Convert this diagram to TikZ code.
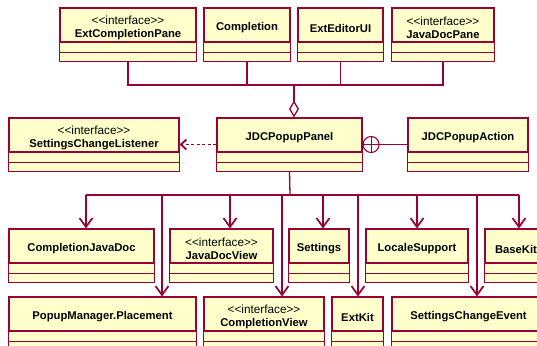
\documentclass[tikz,border=0pt]{standalone}
\usepackage{fontspec}
\newfontfamily\umlfont{Liberation Sans}[Ligatures=TeXOff]
\usetikzlibrary{arrows.meta}
\definecolor{umlred}{RGB}{153,0,51}
\definecolor{umlfill}{RGB}{255,255,204}
\newcommand{\stereo}[1]{{\mdseries\fontsize{11.8}{12.5}\selectfont\rule{0pt}{14.5bp}<<#1>>}\\}

\begin{document}
\begin{tikzpicture}[x=1bp,y=-1bp,
  cls/.style={draw=umlred,fill=umlfill,line width=1.1bp,inner sep=0pt,minimum height=34bp,
    align=center,font=\umlfont\bfseries\fontsize{11.3}{12.5}\selectfont,
    execute at begin node={\rule{0pt}{14.3bp}}},
  link/.style={draw=umlred,line width=1.3bp},
  dep/.style={link,line width=1.7bp,-{Straight Barb[length=9bp,width=13bp]}}]
  \path[use as bounding box] (0,0) rectangle (537,345);
  \clip (0,0) rectangle (537,345);
  % classes, name compartment only
  \node[cls,minimum width=136bp] (ecp) at (128,25) {\stereo{interface}ExtCompletionPane};
  \node[cls,minimum width=86bp] (comp) at (247,25) {Completion};
  \node[cls,minimum width=85bp] (eeui) at (340.5,25) {ExtEditorUI};
  \node[cls,minimum width=102bp] (jdp) at (443,25) {\stereo{interface}JavaDocPane};
  \node[cls,minimum width=170bp] (scl) at (94,135) {\stereo{interface}SettingsChangeListener};
  \node[cls,minimum width=145bp] (panel) at (289.5,135) {JDCPopupPanel};
  \node[cls,minimum width=120bp] (action) at (468,135) {JDCPopupAction};
  \node[cls,minimum width=145bp] (cjd) at (81.5,246) {CompletionJavaDoc};
  \node[cls,minimum width=103bp] (jdv) at (221.5,246) {\stereo{interface}JavaDocView};
  \node[cls,minimum width=60bp] (set) at (319,246) {Settings};
  \node[cls,minimum width=102bp] (ls) at (417,246) {LocaleSupport};
  \node[cls,minimum width=62bp] (bk) at (516,246) {BaseKit};
  \node[cls,minimum width=187bp] (pmp) at (102.5,314) {PopupManager.Placement};
  \node[cls,minimum width=120bp] (cv) at (264,314) {\stereo{interface}CompletionView};
  \node[cls,minimum width=51bp] (ek) at (357.5,314) {ExtKit};
  \node[cls,minimum width=153bp] (sce) at (468.5,314) {SettingsChangeEvent};
  % empty attribute and operation compartments
  \foreach \n in {ecp,comp,eeui,jdp,scl,panel,action,cjd,jdv,set,ls,bk,pmp,cv,ek,sce}
    \draw[link,line width=1.1bp,fill=umlfill] (\n.south west) rectangle ([yshift=-9.5bp]\n.south east)
      ([yshift=-9.5bp]\n.south west) rectangle ([yshift=-19bp]\n.south east);
  % aggregation
  \coordinate (agg) at (294,85);
  \draw[link] ([yshift=-19bp]ecp.south) -- (ecp.south |- agg) -- (jdp.south |- agg)
    -- ([yshift=-19bp]jdp.south);
  \foreach \n in {comp,eeui} \draw[link] ([yshift=-19bp]\n.south) -- (\n.south |- agg);
  \draw[link,-{Diamond[open,length=17bp,width=10bp]}] (agg) -- (agg |- panel.north);
  % realization
  \draw[link,line width=1.8bp,dash pattern=on 3bp off 2.5bp,-{Straight Barb[length=5.5bp,width=10bp]}]
    ([yshift=-9.5bp]panel.west) -- ([yshift=-9.5bp]scl.east);
  % nested class
  \node[draw=umlred,circle,line width=1.1bp,minimum size=16bp,inner sep=0pt,anchor=west]
    (nest) at ([yshift=-9.5bp]panel.east) {};
  \draw[link,line width=1.1bp] (nest.north) -- (nest.south) (nest.west) -- (nest.east);
  \draw[link] (nest.east) -- (nest.east -| action.west);
  % dependencies
  \coordinate (bus) at (290,195);
  \draw[link] ([yshift=-19bp]panel.south) -- (bus);
  \draw[link,line width=1.5bp] (86,195) -- (519,195);
  \foreach \x/\n in {86/cjd,230/jdv,323/set,417/ls,519/bk,162/pmp,282/cv,358/ek,477/sce}
    \draw[dep] (\x,195) -- (\x,195 |- \n.north);
\end{tikzpicture}
\end{document}
